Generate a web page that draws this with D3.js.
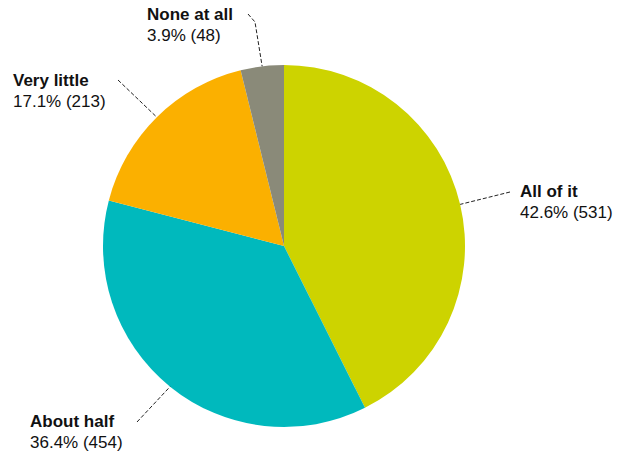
<!DOCTYPE html>
<html>
<head>
<meta charset="utf-8">
<script src="https://cdn.jsdelivr.net/npm/d3@7"></script>
<style>
  html, body { margin: 0; padding: 0; background: #fff; }
  svg { display: block; }
  text { font-family: "Liberation Sans", Arial, sans-serif; fill: #111; }
</style>
</head>
<body>
<script>
// ---- data ----
const categories = ["All of it", "About half", "Very little", "None at all"];
const counts = [531, 454, 213, 48];
const percentLabels = ["42.6%", "36.4%", "17.1%", "3.9%"];
const colors = ["#cdd300", "#00b9bd", "#fbb000", "#8a8a79"];

// ---- layout (label anchors & leader ends) ----
const labelPos = [
  { x: 520, y: 197, lead: [[510, 192]] },
  { x: 30,  y: 427, lead: [[137, 422]] },
  { x: 13,  y: 86,  lead: [[118, 80]] },
  { x: 147, y: 20,  lead: [[248, 14], [255, 22]] }
];

const W = 617, H = 459;
const cx = 284, cy = 246, R = 181;

const svg = d3.select("body").append("svg").attr("width", W).attr("height", H);
const g = svg.append("g").attr("transform", `translate(${cx},${cy})`);

const pie = d3.pie().sort(null).value(d => d)(counts);
const arc = d3.arc().innerRadius(0).outerRadius(R);

g.selectAll("path.slice").data(pie).join("path")
  .attr("class", "slice")
  .attr("d", arc)
  .attr("fill", (d, i) => colors[i]);

// leader lines
const line = d3.line();
pie.forEach((d, i) => {
  const mid = (d.startAngle + d.endAngle) / 2;
  const ex = cx + R * Math.sin(mid), ey = cy - R * Math.cos(mid);
  const pts = labelPos[i].lead.concat([[ex, ey]]);
  svg.append("path")
    .attr("d", line(pts))
    .attr("fill", "none")
    .attr("stroke", "#222")
    .attr("stroke-width", 1)
    .attr("stroke-dasharray", "4,2");
});

// labels
categories.forEach((c, i) => {
  const t = svg.append("text").attr("x", labelPos[i].x).attr("y", labelPos[i].y)
    .style("font-size", "17px");
  t.append("tspan").attr("x", labelPos[i].x).style("font-weight", "bold").text(c);
  t.append("tspan").attr("x", labelPos[i].x).attr("dy", 21)
    .text(`${percentLabels[i]} (${counts[i]})`);
});
</script>
</body>
</html>
